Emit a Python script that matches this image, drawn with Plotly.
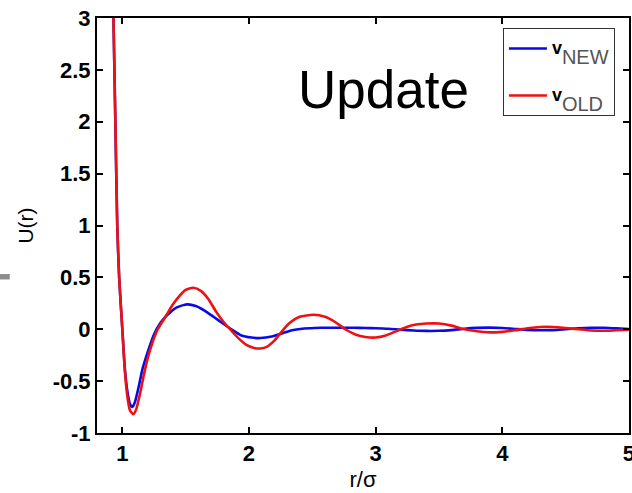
import plotly.graph_objects as go

# Pair potential U(r) against reduced distance r/sigma
r_old = [0.92, 0.93, 0.945, 0.96, 0.975, 1.00, 1.02, 1.04, 1.06, 1.087, 1.11, 1.14, 1.17,
         1.20, 1.24, 1.28, 1.32, 1.36, 1.40, 1.45, 1.50, 1.56, 1.62, 1.68, 1.74, 1.80,
         1.85, 1.92, 1.98, 2.04, 2.09, 2.14, 2.20, 2.26, 2.32, 2.40, 2.51, 2.60, 2.68,
         2.76, 2.84, 2.92, 3.00, 3.08, 3.16, 3.24, 3.32, 3.40, 3.50, 3.60, 3.70, 3.80,
         3.90, 4.00, 4.10, 4.20, 4.30, 4.40, 4.50, 4.60, 4.70, 4.80, 4.90, 5.00]
u_old = [3.6, 3.0, 2.0, 1.0, 0.5, 0.0, -0.4, -0.65, -0.78, -0.82, -0.77, -0.62, -0.44,
         -0.28, -0.12, 0.0, 0.08, 0.16, 0.24, 0.32, 0.38, 0.40, 0.37, 0.29, 0.17, 0.07,
         0.0, -0.09, -0.15, -0.18, -0.185, -0.17, -0.11, -0.02, 0.06, 0.12, 0.14, 0.12, 0.07,
         0.0, -0.05, -0.075, -0.08, -0.06, -0.02, 0.02, 0.045, 0.055, 0.055, 0.035, 0.0, -0.02,
         -0.03, -0.025, -0.01, 0.01, 0.022, 0.022, 0.012, 0.0, -0.012, -0.015, -0.01, -0.005]

r_new = [0.92, 0.93, 0.945, 0.96, 0.975, 1.00, 1.02, 1.04, 1.06, 1.08, 1.10, 1.13, 1.16,
         1.20, 1.25, 1.30, 1.34, 1.38, 1.43, 1.51, 1.58, 1.65, 1.72, 1.80, 1.86, 1.94,
         2.02, 2.09, 2.18, 2.26, 2.34, 2.42, 2.52, 2.62, 2.72, 2.82, 2.92, 3.00, 3.10,
         3.20, 3.30, 3.40, 3.50, 3.60, 3.70, 3.80, 3.90, 4.00, 4.10, 4.20, 4.30, 4.40,
         4.50, 4.60, 4.70, 4.80, 4.90, 5.00]
u_new = [3.6, 3.0, 2.0, 1.0, 0.5, 0.0, -0.38, -0.6, -0.72, -0.75, -0.70, -0.55, -0.38,
         -0.22, -0.05, 0.06, 0.12, 0.165, 0.21, 0.24, 0.225, 0.18, 0.12, 0.05, 0.0, -0.06,
         -0.08, -0.085, -0.07, -0.04, -0.01, 0.005, 0.012, 0.015, 0.015, 0.015, 0.012, 0.01, 0.005,
         -0.005, -0.012, -0.016, -0.015, -0.008, 0.005, 0.013, 0.016, 0.012, 0.003, -0.006, -0.01, -0.008,
         0.0, 0.008, 0.013, 0.014, 0.008, 0.003]

x_ticks = [1, 2, 3, 4, 5]
x_tick_text = ["1", "2", "3", "4", "5"]
y_ticks = [-1, -0.5, 0, 0.5, 1, 1.5, 2, 2.5, 3]
y_tick_text = ["-1", "-0.5", "0", "0.5", "1", "1.5", "2", "2.5", "3"]

FONT = "Liberation Sans, Arial, sans-serif"


def legend_label(sub):
    # bold "v" sitting on the legend line, larger grey subscript dropped below it
    return ("<span style='font-size:18px;font-weight:bold;fill:#000000;baseline-shift:2px'>v</span>"
            "<span style='font-size:20px;fill:#555555;baseline-shift:-8px'>" + sub + "</span>")


fig = go.Figure()
fig.add_trace(go.Scatter(x=r_new, y=u_new, mode="lines", name=legend_label("NEW"),
                         legendgroup="a",
                         line=dict(color="#0a0ae6", width=2.6, shape="spline", smoothing=0.6)))
fig.add_trace(go.Scatter(x=r_old, y=u_old, mode="lines", name=legend_label("OLD"),
                         legendgroup="b",
                         line=dict(color="#ee1111", width=2.6, shape="spline", smoothing=0.6)))

axis_common = dict(showgrid=False, zeroline=False, showline=True, linecolor="black",
                   linewidth=2, mirror="ticks", ticks="inside", ticklen=6, tickwidth=1.5,
                   tickcolor="black", ticklabeloverflow="allow", automargin=False,
                   tickfont=dict(family=FONT, size=22, color="black", weight="bold"))

fig.update_xaxes(range=[0.8, 5.0005], tickvals=x_ticks, ticktext=x_tick_text,
                 title=dict(text="r/σ", font=dict(family=FONT, size=22, color="black"), standoff=6),
                 **axis_common)
fig.update_yaxes(range=[-1, 3], tickvals=y_ticks, ticktext=y_tick_text,
                 title=dict(text="U(r)", font=dict(family=FONT, size=21, color="black"), standoff=13),
                 **axis_common)

fig.add_annotation(text="Update", xref="paper", yref="paper", x=0.539, y=0.828,
                   xanchor="center", yanchor="middle", showarrow=False,
                   font=dict(family=FONT, size=53, color="black"))

# small grey tab at the left edge of the slide
fig.add_shape(type="rect", xref="paper", yref="paper", x0=-0.185, x1=-0.164,
              y0=0.37, y1=0.383, fillcolor="#8c8c8c", line=dict(width=0))

fig.update_layout(
    width=632, height=493,
    margin=dict(l=97, r=3, t=18, b=60),
    paper_bgcolor="white", plot_bgcolor="white",
    showlegend=True,
    legend=dict(x=0.763, y=0.976, xanchor="left", yanchor="top",
                bgcolor="white", bordercolor="#333333", borderwidth=1,
                itemwidth=38, tracegroupgap=18,
                font=dict(family=FONT, size=20, color="black")),
)

fig.write_html("out.html")
